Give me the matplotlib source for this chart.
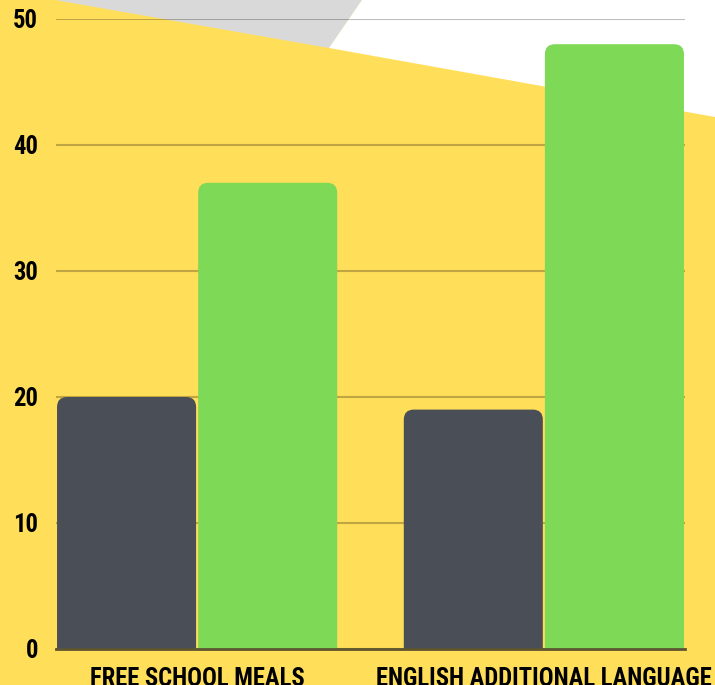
import matplotlib
matplotlib.use("Agg")
import matplotlib.pyplot as plt
from matplotlib.patches import Polygon, FancyBboxPatch

# Data
categories = ["FREE SCHOOL MEALS", "ENGLISH ADDITIONAL LANGUAGE"]
series_a = [20, 19]   # dark bars
series_b = [37, 48]   # green bars
yticks = [0, 10, 20, 30, 40, 50]

YELLOW = "#FFDE59"
DARK = "#4A4F57"
GREEN = "#7ED957"
FONT = ["Roboto Condensed", "Roboto", "DejaVu Sans"]

W, H = 715, 685
fig = plt.figure(figsize=(W / 100, H / 100), dpi=100, facecolor=YELLOW)

# Background shapes (figure pixel coords, y from top)
def px(pts):
    return [(x / W, 1 - y / H) for x, y in pts]

fig.patches.append(Polygon(px([(55, 0), (362, 0), (329, 48)]), closed=True,
                           transform=fig.transFigure, facecolor="#D9D9D9",
                           edgecolor="none", zorder=-10))
fig.patches.append(Polygon(px([(362, 0), (W, 0), (W, 117), (329, 48)]), closed=True,
                           transform=fig.transFigure, facecolor="white",
                           edgecolor="none", zorder=-10))

ax = fig.add_axes([56 / W, 1 - 649 / H, (685 - 56) / W, (649 - 19) / H])
ax.set_facecolor("none")

width = 0.407
x = range(len(categories))
ax.set_xlim(-width, len(categories) - 1 + width)
ax.set_ylim(0, 50)

# px per data unit, used to keep corner radius round
xu = (685 - 56) / (len(categories) - 1 + 2 * width)
yu = (649 - 19) / 50
r = 10 / xu

for i in x:
    for val, off, col in [(series_a[i], -width / 2, DARK), (series_b[i], width / 2, GREEN)]:
        left = i + off - width / 2 + 0.003
        w = width - 0.006
        bottom = -2
        p = FancyBboxPatch((left, bottom), w, val - bottom,
                           boxstyle=f"round,pad=0,rounding_size={r}",
                           mutation_aspect=xu / yu, facecolor=col,
                           edgecolor="none", zorder=3)
        ax.add_patch(p)

ax.set_yticks(yticks)
ax.set_yticklabels([str(t) for t in yticks], fontfamily=FONT,
                   fontweight="bold", fontsize=17.7)
ax.set_xticks(list(x))
ax.set_xticklabels(categories, fontfamily=FONT, fontweight="bold", fontsize=17.7)
ax.tick_params(axis="y", length=0, pad=13)
ax.tick_params(axis="x", length=0, pad=13)

ax.grid(axis="y", color="black", alpha=0.25, linewidth=1.5, zorder=1)
ax.set_axisbelow(True)
for s in ["top", "right", "left"]:
    ax.spines[s].set_visible(False)
ax.spines["bottom"].set_color("#5E5530")
ax.spines["bottom"].set_linewidth(2)
ax.spines["bottom"].set_zorder(4)

fig.savefig("out.png", dpi=100, facecolor=YELLOW)
